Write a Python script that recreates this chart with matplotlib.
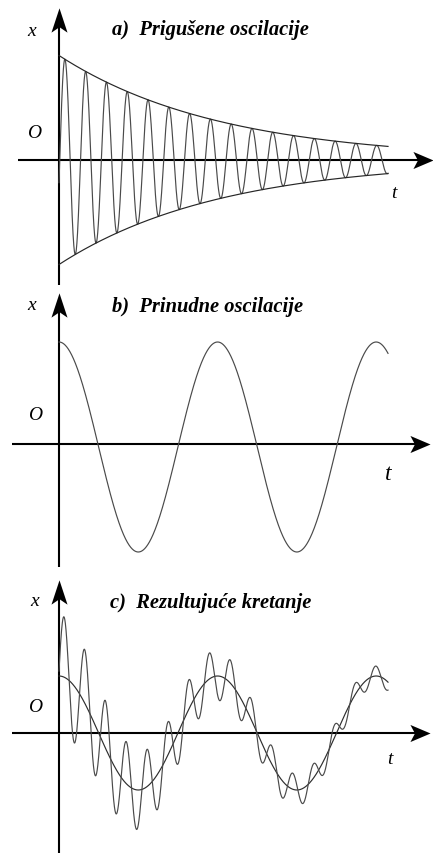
import numpy as np
import matplotlib
matplotlib.use("Agg")
import matplotlib.pyplot as plt
from matplotlib.path import Path

plt.rcParams['font.family'] = ['Liberation Serif', 'DejaVu Serif']

# time span drawn for every curve
T_END = 10.0

# a) damped oscillation
DAMP_A0 = 1.045
DAMP_RATE = 0.204
DAMP_PERIOD = 0.632
DAMP_PEAK_T = 0.18

# b) forced oscillation
FORCE_AMP = 1.05
FORCE_PERIOD = 4.82
FORCE_SHIFT = -0.03

# c) resulting motion (forced part + damped part)
RES_FORCE_AMP = 0.57
RES_DAMP_A0 = 0.62
RES_DAMP_RATE = 0.19
RES_DAMP_PEAK_T = 0.15

TITLES = ["a)  Prigušene oscilacije", "b)  Prinudne oscilacije", "c)  Rezultujuće kretanje"]

t = np.linspace(0, T_END, 3000)


def damped(a0, rate, peak_t):
    return a0 * np.exp(-rate * t) * np.cos(2 * np.pi * (t - peak_t) / DAMP_PERIOD)


def forced(amp, shift=0.0):
    return amp * np.cos(2 * np.pi * t / FORCE_PERIOD) + shift


# stealth style arrow heads
head_right = Path([(1, 0), (-1, 0.85), (-0.55, 0), (-1, -0.85), (1, 0)],
                  [Path.MOVETO, Path.LINETO, Path.LINETO, Path.LINETO, Path.CLOSEPOLY])
head_up = Path([(0, 1), (0.66, -1), (0, -0.55), (-0.66, -1), (0, 1)],
               [Path.MOVETO, Path.LINETO, Path.LINETO, Path.LINETO, Path.CLOSEPOLY])

fig = plt.figure(figsize=(4.33, 8.56), dpi=100)
H = 856.0
PX_T = 32.9    # pixels per time unit
PX_X = 100.0   # pixels per amplitude unit
X0 = 59.0      # pixel column of the x axis

# (band top, band bottom, axis row, left end of t axis, t tip, x axis bottom, x axis tip)
panels = [
    (0, 290, 160, 18, 433, 285, 8),
    (290, 575, 444, 12, 430, 567, 293),
    (575, 856, 733, 12, 430, 853, 580),
]

axes = []
for top, bot, row, left, tip, ybot, ytip in panels:
    ax = fig.add_axes([0, (H - bot) / H, 1, (bot - top) / H])
    ax.set_xlim(-X0 / PX_T, (433 - X0) / PX_T)
    ax.set_ylim(-(bot - row) / PX_X, (row - top) / PX_X)
    ax.axis('off')

    # t axis with arrow
    t_tip = (tip - X0) / PX_T
    ax.plot([(left - X0) / PX_T, t_tip - 10 / PX_T], [0, 0], color='black', lw=1.5,
            solid_capstyle='butt', clip_on=False)
    ax.plot([t_tip - 10 / PX_T], [0], marker=head_right, markersize=14.5,
            color='black', mew=0, clip_on=False)

    # x axis with arrow
    x_tip = (row - ytip) / PX_X
    ax.plot([0, 0], [-(ybot - row) / PX_X, x_tip - 12 / PX_X], color='black', lw=1.5,
            solid_capstyle='butt', clip_on=False)
    ax.plot([0], [x_tip - 12 / PX_X], marker=head_up, markersize=17.5,
            color='black', mew=0, clip_on=False)
    axes.append(ax)

curve_kw = dict(color='#4a4a4a', lw=0.85)
label_kw = dict(fontstyle='italic', ha='center', va='center')
title_kw = dict(fontstyle='italic', fontweight='bold', fontsize=14.8, ha='left', va='center')

# a) damped oscillation and its envelope
ax = axes[0]
ax.plot(t, damped(DAMP_A0, DAMP_RATE, DAMP_PEAK_T), **curve_kw)
env = DAMP_A0 * np.exp(-DAMP_RATE * t)
ax.plot(t, env, color='#262626', lw=0.85)
ax.plot(t, -env, color='#262626', lw=0.85)
ax.text(-0.82, 1.29, 'x', fontsize=14, **label_kw)
ax.text(-0.76, 0.27, 'O', fontsize=14, **label_kw)
ax.text(10.18, -0.34, 't', fontsize=14, **label_kw)
ax.text(1.61, 1.30, TITLES[0], **title_kw)

# b) forced oscillation
ax = axes[1]
ax.plot(t, forced(FORCE_AMP, FORCE_SHIFT), **curve_kw)
ax.text(-0.82, 1.39, 'x', fontsize=14, **label_kw)
ax.text(-0.73, 0.29, 'O', fontsize=14, **label_kw)
ax.text(10.0, -0.31, 't', fontsize=17, **label_kw)
ax.text(1.61, 1.37, TITLES[1], **title_kw)

# c) resulting motion: forced part plus the damped part
ax = axes[2]
steady = forced(RES_FORCE_AMP)
ax.plot(t, steady, color='#2e2e2e', lw=0.85)
ax.plot(t, steady + damped(RES_DAMP_A0, RES_DAMP_RATE, RES_DAMP_PEAK_T), **curve_kw)
ax.text(-0.73, 1.31, 'x', fontsize=14, **label_kw)
ax.text(-0.73, 0.26, 'O', fontsize=14, **label_kw)
ax.text(10.06, -0.27, 't', fontsize=14, **label_kw)
ax.text(1.55, 1.30, TITLES[2], **title_kw)

fig.savefig('out.png', dpi=100)
